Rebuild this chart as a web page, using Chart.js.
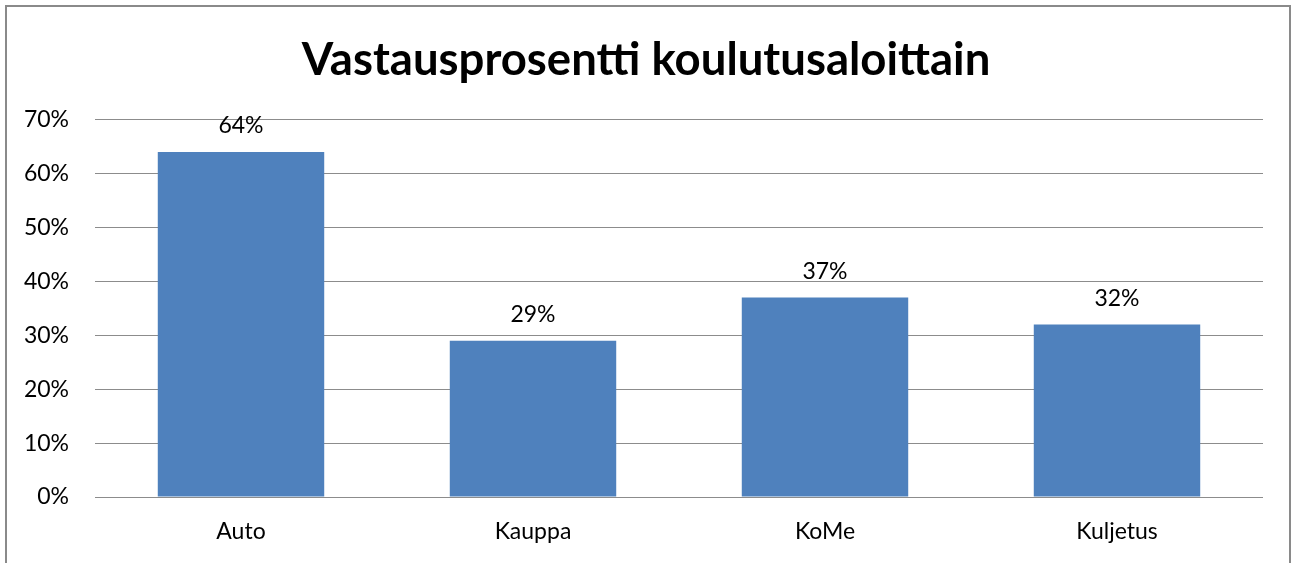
<!DOCTYPE html>
<html><head><meta charset="utf-8">
<script src="https://cdn.jsdelivr.net/npm/chart.js@4/dist/chart.umd.min.js"></script>
<style>
html,body{margin:0;padding:0;background:#fff;overflow:hidden}
#wrap{position:absolute;left:0;top:0;width:1292px;height:563px}
#frame{position:absolute;left:5px;top:5px;width:1286px;height:600px;border:2px solid #8a8a8a;box-sizing:border-box;pointer-events:none}
</style></head><body>
<div id="wrap"><canvas id="c" width="1292" height="563"></canvas><div id="frame"></div></div>
<script>
const categories = ["Auto", "Kauppa", "KoMe", "Kuljetus"];
const values = [64, 29, 37, 32];
const yTicks = [0, 10, 20, 30, 40, 50, 60, 70];
const titleText = "Vastausprosentti koulutusaloittain";

const valueLabels = {
  id: 'valueLabels',
  afterDatasetsDraw(chart) {
    const ctx = chart.ctx;
    const meta = chart.getDatasetMeta(0);
    ctx.save();
    ctx.font = '23px Lato';
    ctx.fillStyle = '#000';
    ctx.textAlign = 'center';
    ctx.textBaseline = 'middle';
    meta.data.forEach((bar, i) => {
      ctx.fillText(values[i] + '%', bar.x, bar.y - 26);
    });
    ctx.restore();
  }
};

new Chart(document.getElementById('c'), {
  type: 'bar',
  data: {
    labels: categories,
    datasets: [{ data: values, backgroundColor: '#4f81bd', borderWidth: 0, categoryPercentage: 1, barPercentage: 0.57 }]
  },
  options: {
    responsive: false,
    animation: false,
    layout: { padding: 0 },
    plugins: {
      legend: { display: false },
      tooltip: { enabled: false },
      title: { display: true, text: titleText, color: '#000',
        font: { family: 'Lato', size: 45.5, weight: 'bold', lineHeight: 1.2 },
        padding: { top: 33, bottom: 32 } }
    },
    scales: {
      x: {
        grid: { display: false, drawTicks: false },
        border: { display: false },
        ticks: { color: '#000', font: { family: 'Lato', size: 23 }, padding: 21 },
        afterFit(s) { s.height = 66; }
      },
      y: {
        min: 0, max: 70,
        afterBuildTicks(s) { s.ticks = yTicks.map(v => ({ value: v })); },
        grid: { color: '#8c8c8c', lineWidth: 1, drawTicks: false },
        border: { display: false },
        ticks: { color: '#000', font: { family: 'Lato', size: 23 }, padding: 26, callback: v => v + '%' },
        afterFit(s) { s.width = 95; }
      },
      yRight: {
        position: 'right',
        display: true,
        min: 0, max: 70,
        grid: { display: false, drawTicks: false },
        border: { display: false },
        ticks: { display: false },
        afterFit(s) { s.width = 29; }
      }
    }
  },
  plugins: [valueLabels]
});
</script>
</body></html>
